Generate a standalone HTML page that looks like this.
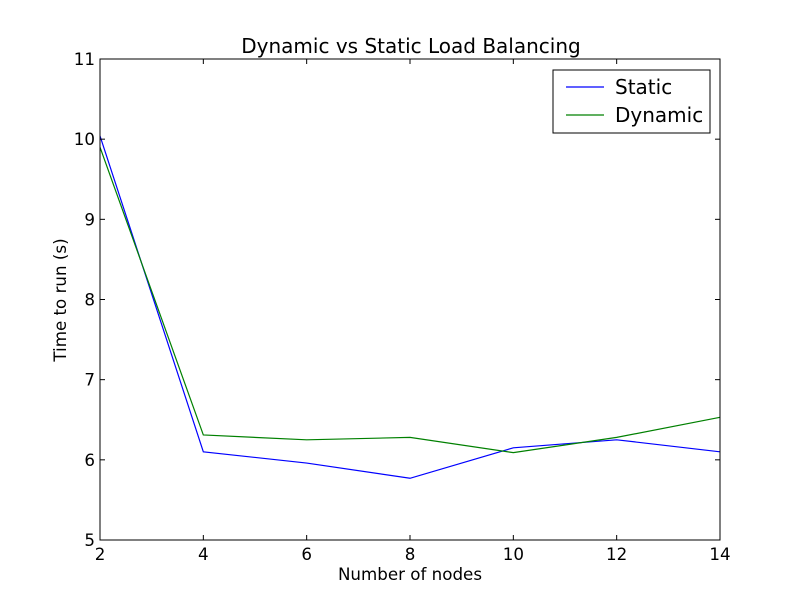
<!DOCTYPE html>
<html><head><meta charset="utf-8"><style>
body{margin:0;background:#fff;}
svg{display:block;font-family:"DejaVu Sans","Liberation Sans",sans-serif;}
</style></head><body>
<svg id="chart" width="800" height="600"></svg>
<script>
const xValues=[2,4,6,8,10,12,14];
const staticValues=[10.04,6.1,5.96,5.77,6.15,6.25,6.1];
const dynamicValues=[9.9,6.31,6.25,6.28,6.09,6.28,6.53];
const xTicks=[2,4,6,8,10,12,14];
const yTicks=[5,6,7,8,9,10,11];
const L=100,R=720,T=59,B=540;
const sx=v=>L+(v-2)/12*(R-L);
const sy=v=>B-(v-5)/6*(B-T);
const svg=document.getElementById('chart');
const NS='http://www.w3.org/2000/svg';
function mk(tag,attrs,parent){const e=document.createElementNS(NS,tag);for(const k in attrs)e.setAttribute(k,attrs[k]);(parent||svg).appendChild(e);return e;}
let t;
t=mk('text',{x:411,y:53,'text-anchor':'middle','font-size':20});t.textContent='Dynamic vs Static Load Balancing';


function series(vals,color,name){
  const p=mk('polyline',{points:xValues.map((x,i)=>sx(x)+','+sy(vals[i])).join(' '),fill:'none',stroke:color,'stroke-width':1.2});
  
  
}
series(staticValues,'#0000ff','static-line');
series(dynamicValues,'#008000','dynamic-line');
const frame=mk('rect',{x:L,y:T,width:R-L,height:B-T,fill:'none',stroke:'#000','stroke-width':1});


xTicks.forEach(v=>{
  const x=sx(v);
  mk('line',{x1:x,x2:x,y1:B,y2:B-5,stroke:'#000'});
  mk('line',{x1:x,x2:x,y1:T,y2:T+5,stroke:'#000'});
  const l=mk('text',{x:x,y:B+20,'text-anchor':'middle','font-size':16.7});l.textContent=v;
  
  
});
yTicks.forEach(v=>{
  const y=sy(v);
  mk('line',{x1:L,x2:L+5,y1:y,y2:y,stroke:'#000'});
  mk('line',{x1:R,x2:R-5,y1:y,y2:y,stroke:'#000'});
  const l=mk('text',{x:L-5,y:y+6,'text-anchor':'end','font-size':16.7});l.textContent=v;
  
  
});
t=mk('text',{x:410,y:580,'text-anchor':'middle','font-size':16.7});t.textContent='Number of nodes';


t=mk('text',{x:66,y:300,'text-anchor':'middle','font-size':16.7,transform:'rotate(-90 66 300)'});t.textContent='Time to run (s)';


const lg=mk('g',{});


mk('rect',{x:553,y:70,width:157,height:63,fill:'#fff',stroke:'#000'},lg);
mk('line',{x1:566,x2:604,y1:87,y2:87,stroke:'#0000ff','stroke-width':1.2},lg);
t=mk('text',{x:615,y:94,'font-size':20},lg);t.textContent='Static';
mk('line',{x1:566,x2:604,y1:115,y2:115,stroke:'#008000','stroke-width':1.2},lg);
t=mk('text',{x:615,y:122,'font-size':20},lg);t.textContent='Dynamic';
</script>
</body></html>
